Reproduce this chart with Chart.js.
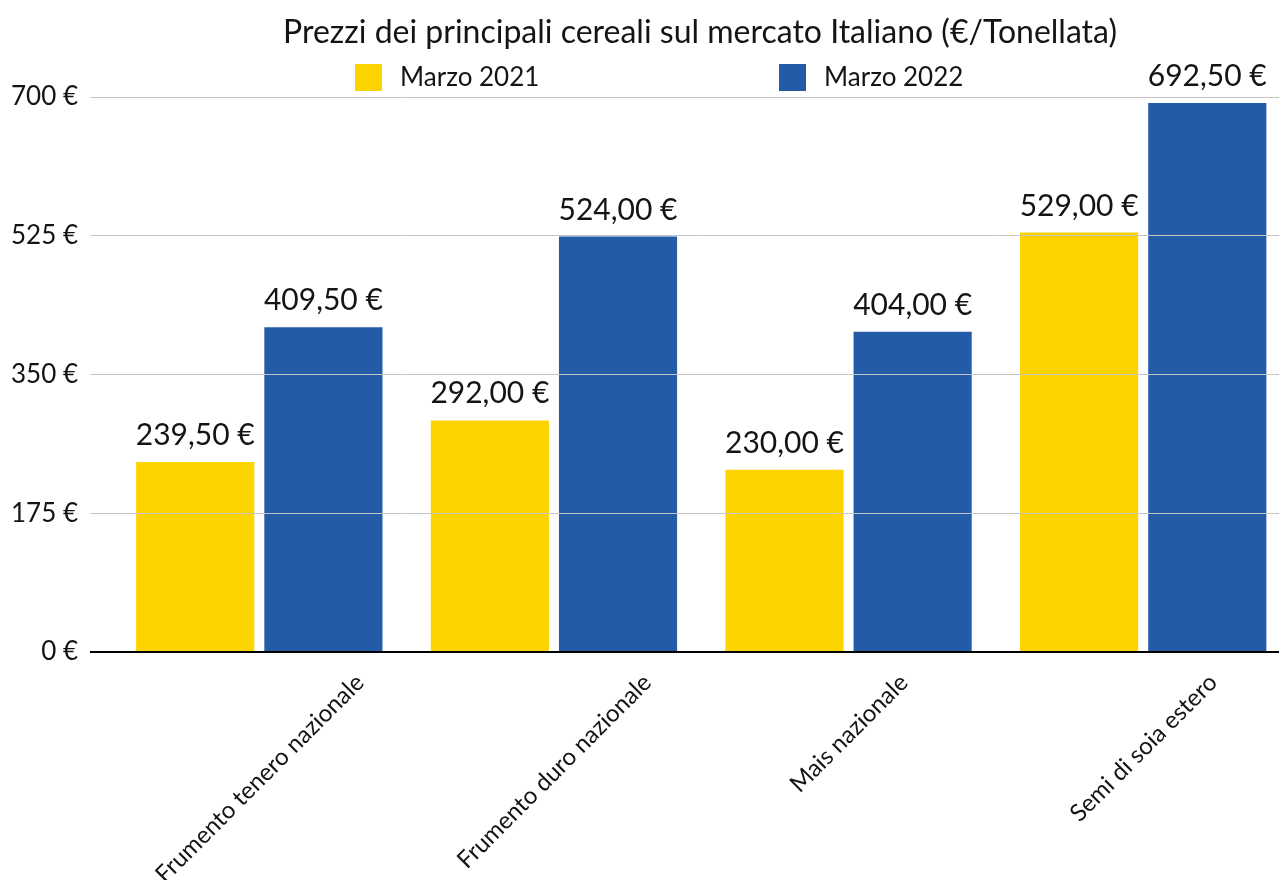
<!DOCTYPE html>
<html>
<head>
<meta charset="utf-8">
<script src="https://cdn.jsdelivr.net/npm/chart.js@4"></script>
<style>
  html, body { margin: 0; padding: 0; background: #fff; overflow: hidden; }
  #wrap { position: absolute; left: 0; top: 0; width: 1292px; height: 880px; }
</style>
</head>
<body>
<div id="wrap"><canvas id="c"></canvas></div>
<script>
const chartTitle = 'Prezzi dei principali cereali sul mercato Italiano (€/Tonellata)';
const categories = ['Frumento tenero nazionale', 'Frumento duro nazionale', 'Mais nazionale', 'Semi di soia estero'];
const seriesNames = ['Marzo 2021', 'Marzo 2022'];
const marzo2021 = [239.5, 292.0, 230.0, 529.0];
const marzo2022 = [409.5, 524.0, 404.0, 692.5];
const yTicks = [0, 175, 350, 525, 700];
const colors = ['#FDD300', '#245BA7'];

const FONT = 'Lato, "Noto Sans", sans-serif';
const TEXT = '#141414';

function euro(v) {
  return v.toFixed(2).replace('.', ',') + ' €';
}

const decorPlugin = {
  id: 'decor',
  afterDraw(chart) {
    const ctx = chart.ctx;
    const area = chart.chartArea;
    const xs = chart.scales.x;
    const ys = chart.scales.y;
    ctx.save();
    // Title
    ctx.fillStyle = TEXT;
    ctx.font = '32px ' + FONT;
    ctx.textAlign = 'center';
    ctx.textBaseline = 'alphabetic';
    ctx.fillText(chartTitle, 700, 43);
    // Legend
    ctx.font = '26px ' + FONT;
    ctx.textAlign = 'left';
    chart.data.datasets.forEach((ds, i) => {
      const bx = area.left + 243 + i * 424;
      ctx.fillStyle = ds.backgroundColor;
      ctx.fillRect(bx, 64, 27, 27);
      ctx.fillStyle = TEXT;
      ctx.fillText(ds.label, bx + 45, 86);
    });
    // Value labels
    ctx.font = '30px ' + FONT;
    ctx.textAlign = 'center';
    chart.data.datasets.forEach((ds, i) => {
      const meta = chart.getDatasetMeta(i);
      meta.data.forEach((el, j) => {
        ctx.fillStyle = TEXT;
        ctx.fillText(euro(ds.data[j]), el.x, el.y - 17);
      });
    });
    // Rotated category labels
    ctx.font = '24px ' + FONT;
    ctx.textAlign = 'right';
    const baseY = ys.getPixelForValue(0);
    chart.data.labels.forEach((lab, i) => {
      const cx = xs.getPixelForValue(i);
      const w = ctx.measureText(lab).width;
      const ex = cx + 6 + (w / 2) * Math.SQRT1_2;
      const ey = baseY + 32;
      ctx.save();
      ctx.translate(ex, ey);
      ctx.rotate(-Math.PI / 4);
      ctx.fillStyle = TEXT;
      ctx.fillText(lab, 0, 0);
      ctx.restore();
    });
    ctx.restore();
  }
};

new Chart(document.getElementById('c'), {
  type: 'bar',
  data: {
    labels: categories,
    datasets: [
      { label: seriesNames[0], data: marzo2021, backgroundColor: colors[0], borderWidth: 0 },
      { label: seriesNames[1], data: marzo2022, backgroundColor: colors[1], borderWidth: 0 }
    ]
  },
  options: {
    responsive: true,
    maintainAspectRatio: false,
    animation: false,
    devicePixelRatio: 1,
    categoryPercentage: 0.87,
    barPercentage: 0.922,
    layout: { padding: { top: 97, bottom: 228, left: 0, right: 1.5 } },
    plugins: {
      legend: { display: false },
      title: { display: false },
      tooltip: { enabled: false }
    },
    scales: {
      x: {
        display: false
      },
      y: {
        min: 0,
        max: 700,
        afterBuildTicks(scale) {
          scale.ticks = yTicks.map(v => ({ value: v }));
        },
        afterFit(scale) {
          scale.width = 112;
        },
        border: { display: false },
        grid: {
          drawTicks: true,
          tickLength: 22,
          color: c => (c.tick && c.tick.value === 0) ? '#000000' : '#c4c4c4',
          tickColor: c => (c.tick && c.tick.value === 0) ? '#000000' : '#c4c4c4',
          lineWidth: c => (c.tick && c.tick.value === 0) ? 2 : 1,
          z: 1
        },
        ticks: {
          padding: 12,
          color: TEXT,
          font: { family: FONT, size: 26 },
          callback: v => v + ' €'
        }
      }
    }
  },
  plugins: [decorPlugin]
});
</script>
</body>
</html>
